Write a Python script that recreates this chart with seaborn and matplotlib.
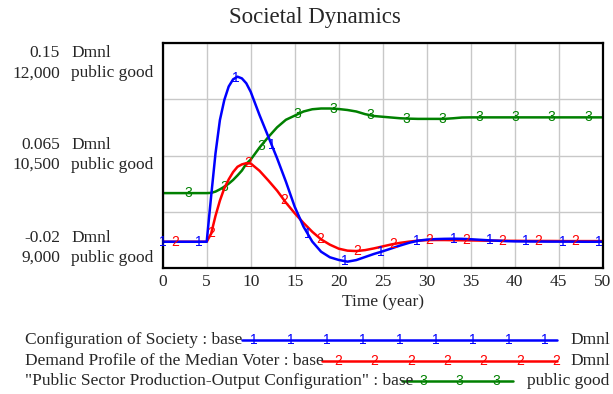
import numpy as np
import matplotlib
matplotlib.use("Agg")
import matplotlib.pyplot as plt
import seaborn as sns

# ---------------- data ----------------
time = [0, 1, 2, 3, 4, 5, 5.5, 6, 6.5, 7, 7.5, 8, 8.5, 9, 9.5, 10,
        11, 12, 13, 14, 15, 16, 17, 18, 19, 20, 21, 22, 23, 24, 25,
        26, 27, 28, 29, 30, 31, 32, 33, 34, 35, 36, 37, 38, 39, 40,
        42, 44, 46, 48, 50]

config_society = [0, 0, 0, 0, 0, 0, 0.034, 0.0666, 0.0917, 0.1068, 0.117, 0.1224, 0.1244, 0.1231, 0.1194, 0.113,
                  0.0955, 0.0792, 0.0629, 0.0453, 0.0264, 0.0114, 0.0001, -0.0075, -0.0117, -0.0137, -0.015, -0.0138, -0.0115, -0.0092, -0.0072,
                  -0.005, -0.0028, -0.0008, 0.0008, 0.0016, 0.002, 0.0022, 0.0023, 0.0022, 0.0019, 0.0015, 0.0011, 0.0008, 0.0005, 0.0003,
                  0.0002, 0.0001, 0.0001, 0.0, 0.0]

demand_voter = [0, 0, 0, 0, 0, 0, 0.006, 0.0195, 0.031, 0.0403, 0.047, 0.0525, 0.0565, 0.0583, 0.0592, 0.059,
                0.0535, 0.0462, 0.0385, 0.0295, 0.0215, 0.0142, 0.0075, 0.0018, -0.0022, -0.0052, -0.0067, -0.007, -0.0063, -0.005, -0.0035,
                -0.002, -0.0008, 0.0001, 0.0008, 0.0012, 0.0013, 0.0013, 0.0012, 0.0011, 0.001, 0.0009, 0.0008, 0.0008, 0.0007, 0.0007,
                0.0006, 0.0006, 0.0005, 0.0005, 0.0005]

public_output = [10000, 10000, 10000, 10000, 10000, 10000, 10003, 10020, 10050, 10085, 10125, 10175, 10235, 10300, 10390, 10445,
                 10605, 10745, 10875, 10975, 11030, 11085, 11115, 11125, 11125, 11118, 11105, 11085, 11050, 11025, 11015,
                 11005, 10995, 10990, 10987, 10987, 10987, 10987, 10995, 11005, 11007, 11007, 11007, 11007, 11007, 11007,
                 11007, 11007, 11007, 11007, 11007]

x_ticks = [0, 5, 10, 15, 20, 25, 30, 35, 40, 45, 50]
dmnl_ticks = [0.15, 0.065, -0.02]
dmnl_labels = ["0.15", "0.065", "-0.02"]
pg_ticks = [12000, 10500, 9000]
pg_labels = ["12,000", "10,500", "9,000"]

series_names = ["Configuration of Society : base",
                "Demand Profile of the Median Voter : base",
                "\"Public Sector Production-Output Configuration\" : base"]
series_units = ["Dmnl", "Dmnl", "public good"]
series_digits = ["1", "2", "3"]
colors = ["#0000ff", "#ff0000", "#008000"]

title = "Societal Dynamics"
xlabel = "Time (year)"

# ---------------- styling ----------------
sns.set_style("white")
plt.rcParams['font.family'] = ['Liberation Serif', 'DejaVu Serif']
FS = 12.5
DIGIT_FONT = dict(family=['Liberation Sans', 'DejaVu Sans'], fontsize=10)

W, H = 613, 394
fig = plt.figure(figsize=(W / 100, H / 100), dpi=100)

L, R, T, B = 162.7, 602.7, 42.7, 268.3
ax = fig.add_axes([L / W, 1 - B / H, (R - L) / W, (B - T) / H])
ax2 = ax.twinx()

# green on the twin (public good) axis, drawn below blue/red
ax.set_zorder(ax2.get_zorder() + 1)
ax.patch.set_visible(False)
ax2.patch.set_visible(True)
ax2.patch.set_facecolor("white")

ax.set_xlim(0, 50)
ax.set_ylim(-0.02, 0.15)
ax2.set_ylim(9000, 12000)

# grid on the lower (twin) axis
ax2.xaxis.set_visible(True)
ax2.set_xticks(x_ticks)
ax2.set_yticks(np.linspace(9000, 12000, 5))
ax2.grid(True, color="#c8c8c8", linewidth=1.0)
ax2.set_axisbelow(True)
ax2.tick_params(axis="both", left=False, right=False, top=False, bottom=False,
                labelleft=False, labelright=False, labeltop=False, labelbottom=False, length=0)

sns.lineplot(x=time, y=public_output, ax=ax2, color=colors[2], linewidth=1.8)
sns.lineplot(x=time, y=demand_voter, ax=ax, color=colors[1], linewidth=1.8)
sns.lineplot(x=time, y=config_society, ax=ax, color=colors[0], linewidth=1.8)

# digit markers along lines
step = 4.13
marker_sets = [(ax, config_society, 0.0, 0), (ax, demand_voter, 1.4, 1), (ax2, public_output, 2.9, 2)]
for a, vals, start, i in marker_sets:
    for tm in np.arange(start, 50.01, step):
        a.text(tm, np.interp(tm, time, vals), series_digits[i], color=colors[i],
               ha="center", va="center", zorder=5, **DIGIT_FONT)

ax.set_xticks(x_ticks)
ax.set_xticklabels([str(v) for v in x_ticks], fontsize=FS)
ax.set_yticks([])
ax.tick_params(axis="x", length=0, pad=4)
ax.set_xlabel(xlabel, fontsize=FS, labelpad=3)
ax.grid(False)
for s in ax.spines.values():
    s.set_color("black")
    s.set_linewidth(1.6)
for s in ax2.spines.values():
    s.set_visible(False)
ax2.set_xlabel("")
ax2.set_ylabel("")
ax.set_ylabel("")

# two-line y tick labels (value + unit), per axis scale
offsets_px = [(10.6, 30.6), (-10.5, 9.5), (-30.3, -10.3)]
for k in range(3):
    o1, o2 = offsets_px[k]
    for (lab, unit, yv, a, off) in [(dmnl_labels[k], "Dmnl", dmnl_ticks[k], ax, o1),
                                    (pg_labels[k], "public good", pg_ticks[k], ax2, o2)]:
        a.annotate(lab, xy=(0, yv), xycoords=a.get_yaxis_transform(),
                   xytext=(60 - L, -off), textcoords="offset pixels",
                   ha="right", va="center", fontsize=FS, annotation_clip=False)
        a.annotate(unit, xy=(0, yv), xycoords=a.get_yaxis_transform(),
                   xytext=(71 - L, -off), textcoords="offset pixels",
                   ha="left", va="center", fontsize=FS, annotation_clip=False)

fig.text(315 / W, 1 - 18 / H, title, ha="center", va="center", fontsize=16.5)

# legend block (pixel coordinate overlay)
lg = fig.add_axes([0, 0, 1, 1])
lg.set_xlim(0, W)
lg.set_ylim(H, 0)
lg.axis("off")
lg.patch.set_visible(False)
rows = [(340, 242, 557, 254, 9, 570), (361, 322, 557, 338, 7, 570), (381, 402, 513, 423, 3, 527)]
for i, (yy, x0, x1, d0, nd, ux) in enumerate(rows):
    lg.text(25, yy, series_names[i], ha="left", va="center", fontsize=FS)
    lg.plot([x0, x1], [yy, yy], color=colors[i], linewidth=1.8)
    for j in range(nd):
        lg.text(d0 + j * 36.4, yy, series_digits[i], color=colors[i],
                ha="center", va="center", **DIGIT_FONT)
    lg.text(ux, yy, series_units[i], ha="left", va="center", fontsize=FS)

fig.savefig("out.png", dpi=100)
